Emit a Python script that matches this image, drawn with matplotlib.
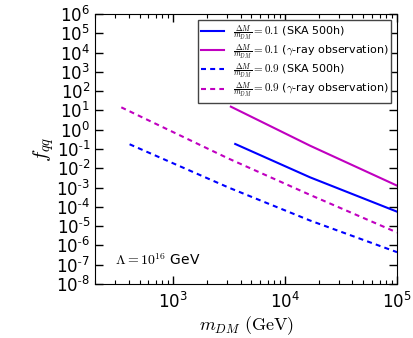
import numpy as np
import matplotlib
matplotlib.use("Agg")
import matplotlib.pyplot as plt
from matplotlib.ticker import FixedLocator, FixedFormatter, LogLocator, NullFormatter

plt.rcParams["mathtext.fontset"] = "cm"
plt.rcParams["font.family"] = "DejaVu Sans"

# ── Data (log10 of m_DM in GeV, log10 of f_qq) ──────────────────────────────
SOLID_SKA_LOGX = [3.554, 4.223, 5.0]
SOLID_SKA_LOGY = [-0.74, -2.47, -4.25]

SOLID_GAMMA_LOGX = [3.515, 4.223, 5.0]
SOLID_GAMMA_LOGY = [1.195, -0.83, -2.90]

DASH_SKA_LOGX = [2.61, 3.497, 4.223, 5.0]
DASH_SKA_LOGY = [-0.755, -3.005, -4.71, -6.35]

DASH_GAMMA_LOGX = [2.536, 3.488, 4.223, 5.0]
DASH_GAMMA_LOGY = [1.16, -1.48, -3.38, -5.33]

LABELS = [
    r"$\frac{\Delta M}{m_{DM}}=0.1$ (SKA 500h)",
    r"$\frac{\Delta M}{m_{DM}}=0.1$ ($\gamma$-ray observation)",
    r"$\frac{\Delta M}{m_{DM}}=0.9$ (SKA 500h)",
    r"$\frac{\Delta M}{m_{DM}}=0.9$ ($\gamma$-ray observation)",
]

Y_EXP = list(range(-8, 7))
X_EXP = [3, 4, 5]

BLUE = "#0000ff"
MAGENTA = "#c000c0"

fig = plt.figure(figsize=(4.14, 3.38), dpi=100)
ax = fig.add_axes([0.2295, 0.1598, 0.7295, 0.7988])

series = [
    (SOLID_SKA_LOGX, SOLID_SKA_LOGY, BLUE, "-"),
    (SOLID_GAMMA_LOGX, SOLID_GAMMA_LOGY, MAGENTA, "-"),
    (DASH_SKA_LOGX, DASH_SKA_LOGY, BLUE, "--"),
    (DASH_GAMMA_LOGX, DASH_GAMMA_LOGY, MAGENTA, "--"),
]
for (lx, ly, col, ls), lab in zip(series, LABELS):
    kw = dict(color=col, lw=1.5, label=lab)
    if ls == "--":
        kw["dashes"] = (2.4, 2.0)
    ax.plot(10 ** np.array(lx), 10 ** np.array(ly), **kw)

ax.set_xscale("log")
ax.set_yscale("log")
ax.set_xlim(200, 1e5)
ax.set_ylim(1e-8, 1e6)

ax.yaxis.set_major_locator(FixedLocator([10.0 ** e for e in Y_EXP]))
ax.yaxis.set_major_formatter(FixedFormatter(
    [r"$\mathregular{10^{\text{-}%d}}$" % -e if e < 0 else r"$\mathregular{10^{%d}}$" % e
     for e in Y_EXP]))
ax.yaxis.set_minor_locator(FixedLocator([]))
ax.xaxis.set_major_locator(FixedLocator([10.0 ** e for e in X_EXP]))
ax.xaxis.set_major_formatter(FixedFormatter([r"$\mathregular{10^{%d}}$" % e for e in X_EXP]))
ax.xaxis.set_minor_locator(LogLocator(base=10, subs=np.arange(2, 10), numticks=20))
ax.xaxis.set_minor_formatter(NullFormatter())

ax.tick_params(which="both", direction="in", top=True, right=True, labelsize=12)
ax.tick_params(which="major", length=6, width=1)
ax.tick_params(which="minor", length=3, width=0.8)
ax.tick_params(axis="x", pad=6)

ax.set_xlabel(r"$m_{DM}\ \mathrm{(GeV)}$", fontsize=13, labelpad=1)
ax.set_ylabel(r"$f_{qq}$", fontsize=15, labelpad=0)

ax.text(0.066, 0.089, r"$\Lambda=10^{16}$ GeV", transform=ax.transAxes,
        fontsize=10, va="center", ha="left")

leg = ax.legend(loc="upper right", fontsize=8, frameon=True, fancybox=False,
                handlelength=2.0, handletextpad=0.8, borderpad=0.3,
                labelspacing=0.05, borderaxespad=0.5)
leg.get_frame().set_edgecolor("#444444")
leg.get_frame().set_linewidth(1.0)
leg.get_frame().set_alpha(1.0)

fig.savefig("out.png", dpi=100)
